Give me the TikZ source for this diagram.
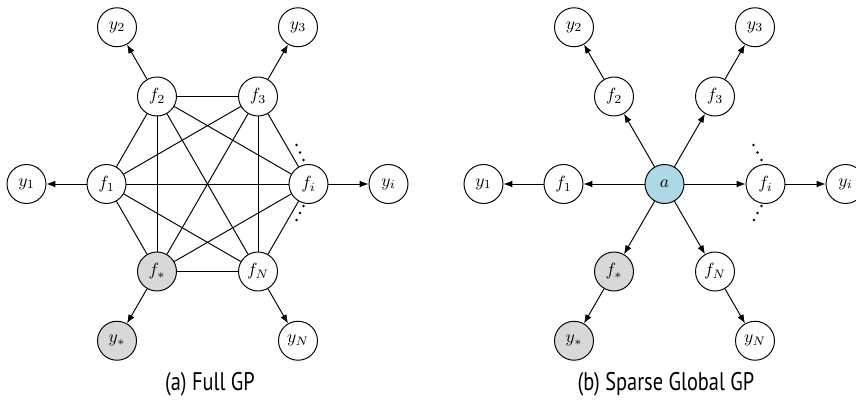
\documentclass[tikz,border=0pt]{standalone}
\usepackage{fontspec}
\newfontfamily\capfont[FakeStretch=0.8]{PT Sans}
\usetikzlibrary{arrows.meta}
\definecolor{indblue}{RGB}{173,216,230}
\definecolor{obsgray}{RGB}{216,216,216}
\begin{document}
\begin{tikzpicture}[x=0.02cm,y=-0.02cm,
  var/.style={circle,draw,line width=0.55pt,minimum size=0.78cm,inner sep=0pt,fill=white},
  obs/.style={var,fill=obsgray},
  ind/.style={var,fill=indblue},
  arr/.style={-{Latex[length=5pt,width=3.8pt]},line width=0.55pt},
  lnk/.style={line width=0.55pt},
  dotm/.style={circle,fill,inner sep=0pt,minimum size=1.5pt},
  caption/.style={font=\capfont\fontsize{14.5}{16}\selectfont}]
\useasboundingbox (0,0) rectangle (856,406);

% ---------- (a) Full GP ----------
\node[var] (af1) at (106.5,184) {$f_1$};
\node[var] (afi) at (308.5,184) {$f_i$};
\node[var] (af2) at (157,96.5) {$f_2$};
\node[var] (af3) at (258,96.5) {$f_3$};
\node[obs] (afs) at (157,271.5) {$f_*$};
\node[var] (afN) at (258,271.5) {$f_N$};
\node[var] (ay1) at (26.5,184) {$y_1$};
\node[var] (ayi) at (388.5,184) {$y_i$};
\node[var] (ay2) at (117,27.25) {$y_2$};
\node[var] (ay3) at (298,27.25) {$y_3$};
\node[obs] (ays) at (117,340.75) {$y_*$};
\node[var] (ayN) at (298,340.75) {$y_N$};

\foreach \a/\b in {af1/af2,af1/af3,af1/afi,af1/afN,af1/afs,
                   af2/af3,af2/afi,af2/afN,af2/afs,
                   af3/afi,af3/afN,af3/afs,
                   afi/afN,afi/afs,afN/afs}
  \draw[lnk] (\a) -- (\b);
\foreach \f/\y in {af1/ay1,afi/ayi,af2/ay2,af3/ay3,afs/ays,afN/ayN}
  \draw[arr] (\f) -- (\y);

\node[dotm] (ad1) at (296.5,145) {};
\node[dotm] (ad2) at (300,152.5) {};
\node[dotm] (ad3) at (303.5,160) {};
\node[dotm] (ad4) at (303.5,206) {};
\node[dotm] (ad5) at (300,213) {};
\node[dotm] (ad6) at (296.5,220) {};

\node[caption] (capa) at (210,384) {(a) Full GP};

% ---------- (b) Sparse Global GP ----------
\node[ind] (ba) at (664.5,184) {$a$};
\node[var] (bf1) at (563.5,184) {$f_1$};
\node[var] (bfi) at (765.5,184) {$f_i$};
\node[var] (bf2) at (614,96.5) {$f_2$};
\node[var] (bf3) at (715,96.5) {$f_3$};
\node[obs] (bfs) at (614,271.5) {$f_*$};
\node[var] (bfN) at (715,271.5) {$f_N$};
\node[var] (by1) at (483.5,184) {$y_1$};
\node[var] (byi) at (845.5,184) {$y_i$};
\node[var] (by2) at (574,27.25) {$y_2$};
\node[var] (by3) at (755,27.25) {$y_3$};
\node[obs] (bys) at (574,340.75) {$y_*$};
\node[var] (byN) at (755,340.75) {$y_N$};

\foreach \f in {bf1,bfi,bf2,bf3,bfs,bfN}
  \draw[arr] (ba) -- (\f);
\foreach \f/\y in {bf1/by1,bfi/byi,bf2/by2,bf3/by3,bfs/bys,bfN/byN}
  \draw[arr] (\f) -- (\y);

\node[dotm] (bd1) at (753.5,145) {};
\node[dotm] (bd2) at (757.5,152.5) {};
\node[dotm] (bd3) at (761.5,160) {};
\node[dotm] (bd4) at (761.5,206) {};
\node[dotm] (bd5) at (757.5,213) {};
\node[dotm] (bd6) at (754,220) {};

\node[caption] (capb) at (666,384) {(b) Sparse Global GP};
\end{tikzpicture}
\end{document}
